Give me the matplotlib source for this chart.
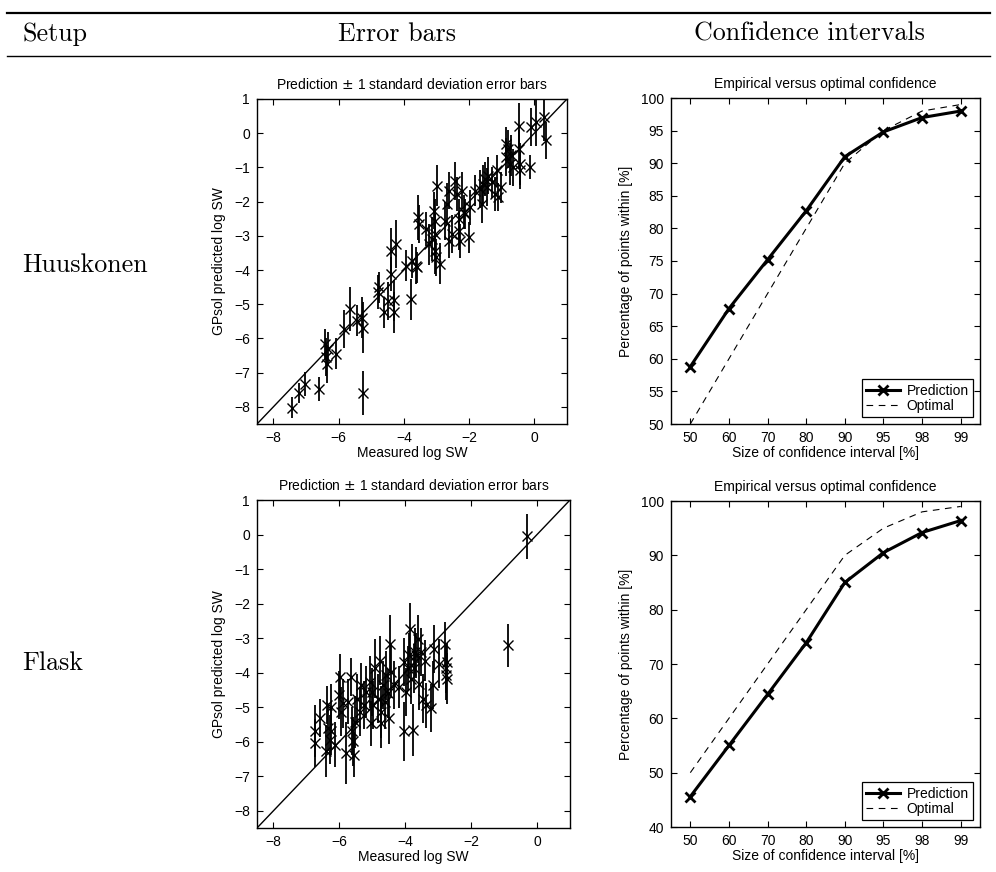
import numpy as np
import matplotlib
matplotlib.use("Agg")
import matplotlib.pyplot as plt
from matplotlib.lines import Line2D

plt.rcParams['font.family'] = ['Liberation Sans', 'DejaVu Sans']
plt.rcParams['font.size'] = 10
plt.rcParams['axes.linewidth'] = 1.0

# ---- data ---------------------------------------------------------------
# Huuskonen: measured log SW, predicted log SW, predicted std
huus_meas = [-7.42, -7.22, -7.02, -6.59, -6.41, -6.38, -6.35, -6.32, -6.08, -5.84,
             -5.66, -5.45, -5.27, -5.25, -5.25, -4.80, -4.75, -4.60, -4.49, -4.39,
             -4.39, -4.31, -4.29, -4.24, -3.94, -3.74, -3.79, -3.64, -3.59, -3.56,
             -3.54, -3.33, -3.23, -3.13, -3.08, -3.05, -3.05, -3.03, -3.01, -2.98,
             -2.88, -2.73, -2.68, -2.63, -2.61, -2.53, -2.42, -2.37, -2.32, -2.32,
             -2.27, -2.22, -2.17, -2.12, -1.97, -2.00, -1.82, -1.67, -1.62, -1.57,
             -1.52, -1.46, -1.41, -1.31, -1.21, -1.16, -1.11, -1.01, -0.86, -0.86,
             -0.81, -0.76, -0.71, -0.66, -0.48, -0.47, -0.45, -0.45, -0.12, -0.10,
             0.05, 0.30, 0.35]
huus_pred = [-8.02, -7.60, -7.34, -7.48, -6.17, -6.55, -6.75, -6.30, -6.44, -5.73,
             -5.14, -5.48, -5.39, -5.68, -7.60, -4.65, -4.50, -5.24, -4.90, -3.43,
             -4.12, -5.24, -4.88, -3.24, -3.87, -3.73, -4.85, -3.87, -3.92, -2.46,
             -2.65, -2.80, -3.24, -3.09, -2.26, -2.56, -3.43, -2.95, -3.63, -1.53,
             -3.82, -2.56, -2.07, -1.68, -3.14, -2.95, -1.39, -1.78, -2.51, -2.85,
             -3.14, -1.68, -2.31, -2.36, -2.17, -3.04, -1.68, -1.63, -2.07, -1.48,
             -1.34, -1.58, -1.24, -1.43, -1.78, -1.09, -1.87, -1.58, -0.31, -0.70,
             -0.46, -0.90, -0.65, -1.00, 0.22, -0.46, -0.90, -1.09, -0.98, 0.18,
             0.32, 0.47, -0.21]
huus_std = [0.30, 0.30, 0.35, 0.35, 0.45, 0.55, 0.55, 0.50, 0.45, 0.55,
            0.65, 0.45, 0.60, 0.75, 0.65, 0.50, 0.45, 0.45, 0.55, 0.65,
            0.50, 0.60, 0.60, 0.70, 0.45, 0.50, 0.60, 0.55, 0.45, 0.65,
            0.55, 0.50, 0.60, 0.65, 0.55, 0.65, 0.70, 0.60, 0.55, 0.60,
            0.60, 0.55, 0.60, 0.55, 0.50, 0.55, 0.55, 0.50, 0.60, 0.55,
            0.50, 0.55, 0.50, 0.45, 0.50, 0.45, 0.45, 0.55, 0.55, 0.55,
            0.50, 0.55, 0.55, 0.45, 0.50, 0.45, 0.40, 0.45, 0.50, 0.55,
            0.55, 0.60, 0.60, 0.55, 0.65, 0.55, 0.60, 0.55, 0.35, 0.55,
            0.70, 0.70, 0.55]

# Flask
flask_meas = [-6.74, -6.74, -6.59, -6.39, -6.41, -6.34, -6.29, -6.24, -6.24, -6.14,
              -6.00, -5.99, -5.94, -5.89, -5.79, -5.74, -5.64, -5.61, -5.59, -5.56,
              -5.54, -5.48, -5.38, -5.33, -5.26, -5.18, -5.08, -5.03, -5.00, -4.98,
              -4.93, -4.83, -4.78, -4.73, -4.73, -4.68, -4.63, -4.58, -4.53, -4.48,
              -4.46, -4.43, -4.33, -4.18, -4.03, -4.03, -3.98, -3.93, -3.90, -3.86,
              -3.83, -3.77, -3.72, -3.69, -3.67, -3.62, -3.57, -3.52, -3.47, -3.39,
              -3.37, -3.22, -3.17, -3.12, -2.97, -2.79, -2.77, -2.75, -2.72, -2.72,
              -0.88, -0.30]
flask_pred = [-5.70, -6.04, -5.32, -4.94, -6.28, -5.61, -5.94, -4.99, -5.70, -6.09,
              -4.65, -4.12, -5.13, -4.89, -6.33, -4.84, -4.12, -5.70, -5.99, -6.38,
              -5.42, -4.75, -5.13, -4.36, -4.94, -4.56, -4.27, -5.47, -4.56, -4.94,
              -3.88, -4.75, -3.65, -5.13, -5.47, -4.36, -4.84, -4.08, -4.60, -5.32,
              -3.17, -3.98, -4.36, -4.41, -3.69, -5.70, -4.56, -3.88, -3.50, -2.74,
              -4.17, -5.66, -3.88, -3.41, -3.50, -3.02, -4.32, -3.41, -4.75, -3.65,
              -4.94, -5.03, -4.36, -3.31, -3.74, -3.17, -3.88, -4.08, -3.69, -4.17,
              -3.21, -0.05]
flask_std = [0.75, 0.70, 0.55, 0.55, 0.75, 0.65, 0.70, 0.65, 0.70, 0.65,
             0.70, 0.65, 0.70, 0.70, 0.90, 0.65, 0.55, 0.70, 0.70, 0.65,
             0.75, 0.70, 0.70, 0.65, 0.70, 0.75, 0.75, 0.65, 0.70, 0.70,
             0.85, 0.70, 0.70, 0.75, 0.70, 0.70, 0.80, 0.70, 0.70, 0.75,
             0.85, 0.75, 0.70, 0.60, 0.70, 0.85, 0.70, 0.65, 0.65, 0.75,
             0.75, 0.75, 0.70, 0.70, 0.65, 0.70, 0.75, 0.70, 0.70, 0.60,
             0.65, 0.70, 0.70, 0.70, 0.70, 0.65, 0.70, 0.70, 0.55, 0.75,
             0.62, 0.65]

conf_labels = ['50', '60', '70', '80', '90', '95', '98', '99']
optimal = [50, 60, 70, 80, 90, 95, 98, 99]
huus_conf = [58.8, 67.7, 75.2, 82.7, 91.0, 94.8, 97.0, 98.0]
flask_conf = [45.6, 55.0, 64.4, 73.9, 85.0, 90.5, 94.2, 96.4]

# ---- figure -------------------------------------------------------------
W, H = 996, 872
fig = plt.figure(figsize=(W / 100, H / 100), dpi=100)


def box(l, t, r, b):
    return [l / W, 1 - b / H, (r - l) / W, (b - t) / H]


def style(ax):
    ax.tick_params(direction='in', top=True, right=True, length=4, width=0.8,
                   labelsize=10, pad=5)
    for s in ax.spines.values():
        s.set_linewidth(1.0)


def errplot(ax, meas, pred, std):
    ax.errorbar(meas, pred, yerr=std, fmt='x', color='k', ms=7, mew=1.0,
                elinewidth=1.3, capsize=0)
    ax.plot([-8.5, 1], [-8.5, 1], color='k', lw=1.0)
    ax.set_xlim(-8.5, 1)
    ax.set_ylim(-8.5, 1)
    ax.set_xticks([-8, -6, -4, -2, 0])
    ax.set_yticks(range(-8, 2))
    ax.set_title('Prediction $\\pm$ 1 standard deviation error bars', fontsize=10, pad=7)
    ax.set_xlabel('Measured log SW', labelpad=1)
    ax.set_ylabel('GPsol predicted log SW', labelpad=6)
    style(ax)


def confplot(ax, conf, ylo, ystep):
    pos = np.arange(1, len(conf_labels) + 1)
    ax.plot(pos, conf, color='k', lw=2.2, marker='x', ms=7, mew=2.0, label='Prediction')
    ax.plot(pos, optimal, color='k', lw=0.8, ls=(0, (6, 5)), label='Optimal')
    ax.set_xlim(0.5, 8.5)
    ax.set_ylim(ylo, 100)
    ax.set_xticks(pos)
    ax.set_xticklabels(conf_labels)
    ax.set_yticks(np.arange(ylo, 100.1, ystep))
    ax.set_title('Empirical versus optimal confidence', fontsize=10, pad=7)
    ax.set_xlabel('Size of confidence interval [%]', labelpad=1)
    ax.set_ylabel('Percentage of points within [%]', labelpad=6)
    leg = ax.legend(loc='lower right', fancybox=False, edgecolor='k', framealpha=1,
                    borderpad=0.3, labelspacing=0.1, handlelength=2.4,
                    handletextpad=0.5, borderaxespad=0.5, fontsize=10)
    leg.get_frame().set_linewidth(0.9)
    style(ax)


ax1 = fig.add_axes(box(257, 99, 567, 424))
errplot(ax1, huus_meas, huus_pred, huus_std)
ax2 = fig.add_axes(box(671, 98, 980, 424))
confplot(ax2, huus_conf, 50, 5)
ax3 = fig.add_axes(box(257, 500, 570, 828))
errplot(ax3, flask_meas, flask_pred, flask_std)
ax4 = fig.add_axes(box(671, 501, 980, 827))
confplot(ax4, flask_conf, 40, 10)

# ---- table header / row labels -----------------------------------------
serif = dict(family='cmr10', fontsize=18.7, va='center')
fig.add_artist(Line2D([7 / W, 990 / W], [1 - 13 / H] * 2, color='k', lw=1.6))
fig.add_artist(Line2D([7 / W, 990 / W], [1 - 56 / H] * 2, color='k', lw=1.0))
fig.text(22 / W, 1 - 34 / H, 'Setup', ha='left', **serif)
fig.text(397 / W, 1 - 34 / H, 'Error bars', ha='center', **serif)
fig.text(809 / W, 1 - 34 / H, 'Confidence intervals', ha='center', **serif)
fig.text(22 / W, 1 - 265 / H, 'Huuskonen', ha='left', **serif)
fig.text(22 / W, 1 - 663 / H, 'Flask', ha='left', **serif)

fig.savefig('out.png', dpi=100)
